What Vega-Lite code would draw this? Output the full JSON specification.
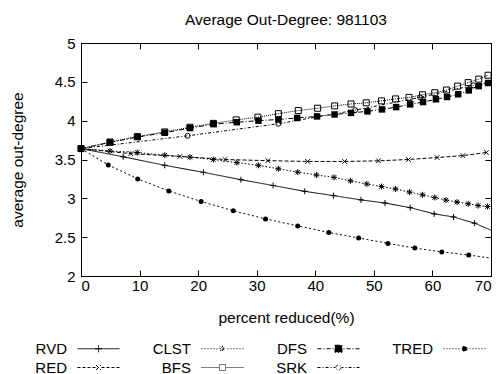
{
  "$schema": "https://vega.github.io/schema/vega-lite/v6.json",
  "width": 410,
  "height": 233,
  "autosize": "none",
  "padding": {"left": 81, "top": 43, "right": 13, "bottom": 98},
  "background": "white",
  "title": {"text": "Average Out-Degree: 981103", "fontSize": 15.5, "fontWeight": "normal", "font": "Liberation Sans", "color": "black", "offset": 8},
  "config": {
    "view": {"stroke": "black", "strokeWidth": 1},
    "axis": {"domain": false, "grid": false, "tickColor": "black", "tickSize": -6, "labelFont": "Liberation Sans", "labelFontSize": 15, "labelColor": "black", "titleFont": "Liberation Sans", "titleFontSize": 15.5, "titleFontWeight": "normal", "titleColor": "black"}
  },
  "data": {"values": [
    {"series": "RVD", "x": 0, "y": 3.64}, {"series": "RVD", "x": 7.2, "y": 3.535}, {"series": "RVD", "x": 14.3, "y": 3.425}, {"series": "RVD", "x": 20.9, "y": 3.335}, {"series": "RVD", "x": 27.3, "y": 3.24}, {"series": "RVD", "x": 32.8, "y": 3.165}, {"series": "RVD", "x": 38.2, "y": 3.09}, {"series": "RVD", "x": 43.1, "y": 3.035}, {"series": "RVD", "x": 47.8, "y": 2.98}, {"series": "RVD", "x": 51.9, "y": 2.94}, {"series": "RVD", "x": 56.2, "y": 2.88}, {"series": "RVD", "x": 60.3, "y": 2.8}, {"series": "RVD", "x": 63.6, "y": 2.76}, {"series": "RVD", "x": 67.2, "y": 2.68}, {"series": "RVD", "x": 70, "y": 2.59},
    {"series": "RED", "x": 0, "y": 3.64}, {"series": "RED", "x": 8.5, "y": 3.575}, {"series": "RED", "x": 16.9, "y": 3.54}, {"series": "RED", "x": 24.6, "y": 3.5}, {"series": "RED", "x": 31.9, "y": 3.485}, {"series": "RED", "x": 38.7, "y": 3.475}, {"series": "RED", "x": 45.0, "y": 3.475}, {"series": "RED", "x": 50.8, "y": 3.483}, {"series": "RED", "x": 55.9, "y": 3.5}, {"series": "RED", "x": 60.8, "y": 3.525}, {"series": "RED", "x": 65.2, "y": 3.55}, {"series": "RED", "x": 69.2, "y": 3.59},
    {"series": "CLST", "x": 0, "y": 3.64}, {"series": "CLST", "x": 4.95, "y": 3.61}, {"series": "CLST", "x": 9.6, "y": 3.59}, {"series": "CLST", "x": 14.3, "y": 3.555}, {"series": "CLST", "x": 18.6, "y": 3.53}, {"series": "CLST", "x": 22.6, "y": 3.5}, {"series": "CLST", "x": 26.6, "y": 3.46}, {"series": "CLST", "x": 30.3, "y": 3.425}, {"series": "CLST", "x": 33.7, "y": 3.38}, {"series": "CLST", "x": 37.0, "y": 3.337}, {"series": "CLST", "x": 40.2, "y": 3.3}, {"series": "CLST", "x": 43.2, "y": 3.27}, {"series": "CLST", "x": 46.0, "y": 3.225}, {"series": "CLST", "x": 48.8, "y": 3.185}, {"series": "CLST", "x": 51.3, "y": 3.152}, {"series": "CLST", "x": 53.7, "y": 3.12}, {"series": "CLST", "x": 56.1, "y": 3.08}, {"series": "CLST", "x": 58.3, "y": 3.045}, {"series": "CLST", "x": 60.4, "y": 3.01}, {"series": "CLST", "x": 62.3, "y": 2.978}, {"series": "CLST", "x": 64.2, "y": 2.952}, {"series": "CLST", "x": 66.1, "y": 2.93}, {"series": "CLST", "x": 67.8, "y": 2.907}, {"series": "CLST", "x": 69.4, "y": 2.895},
    {"series": "BFS", "x": 0, "y": 3.64}, {"series": "BFS", "x": 4.95, "y": 3.725}, {"series": "BFS", "x": 9.6, "y": 3.795}, {"series": "BFS", "x": 14.3, "y": 3.855}, {"series": "BFS", "x": 18.6, "y": 3.915}, {"series": "BFS", "x": 22.6, "y": 3.965}, {"series": "BFS", "x": 26.5, "y": 4.01}, {"series": "BFS", "x": 30.2, "y": 4.045}, {"series": "BFS", "x": 33.7, "y": 4.09}, {"series": "BFS", "x": 37.1, "y": 4.13}, {"series": "BFS", "x": 40.4, "y": 4.16}, {"series": "BFS", "x": 43.3, "y": 4.19}, {"series": "BFS", "x": 46.1, "y": 4.215}, {"series": "BFS", "x": 48.7, "y": 4.23}, {"series": "BFS", "x": 51.3, "y": 4.255}, {"series": "BFS", "x": 53.7, "y": 4.28}, {"series": "BFS", "x": 56.0, "y": 4.3}, {"series": "BFS", "x": 58.3, "y": 4.333}, {"series": "BFS", "x": 60.4, "y": 4.36}, {"series": "BFS", "x": 62.4, "y": 4.395}, {"series": "BFS", "x": 64.3, "y": 4.445}, {"series": "BFS", "x": 66.1, "y": 4.49}, {"series": "BFS", "x": 67.9, "y": 4.535}, {"series": "BFS", "x": 69.5, "y": 4.585},
    {"series": "DFS", "x": 0, "y": 3.64}, {"series": "DFS", "x": 4.95, "y": 3.72}, {"series": "DFS", "x": 9.68, "y": 3.79}, {"series": "DFS", "x": 14.3, "y": 3.845}, {"series": "DFS", "x": 18.6, "y": 3.905}, {"series": "DFS", "x": 22.65, "y": 3.955}, {"series": "DFS", "x": 26.6, "y": 3.98}, {"series": "DFS", "x": 30.3, "y": 4.0}, {"series": "DFS", "x": 33.7, "y": 4.015}, {"series": "DFS", "x": 36.9, "y": 4.035}, {"series": "DFS", "x": 40.3, "y": 4.055}, {"series": "DFS", "x": 43.3, "y": 4.08}, {"series": "DFS", "x": 46.1, "y": 4.1}, {"series": "DFS", "x": 48.9, "y": 4.12}, {"series": "DFS", "x": 51.4, "y": 4.145}, {"series": "DFS", "x": 53.8, "y": 4.175}, {"series": "DFS", "x": 56.2, "y": 4.21}, {"series": "DFS", "x": 58.4, "y": 4.24}, {"series": "DFS", "x": 60.6, "y": 4.275}, {"series": "DFS", "x": 62.5, "y": 4.305}, {"series": "DFS", "x": 64.4, "y": 4.34}, {"series": "DFS", "x": 66.2, "y": 4.39}, {"series": "DFS", "x": 67.9, "y": 4.445}, {"series": "DFS", "x": 69.5, "y": 4.485},
    {"series": "SRK", "x": 0, "y": 3.64}, {"series": "SRK", "x": 18.2, "y": 3.805}, {"series": "SRK", "x": 33.7, "y": 3.96}, {"series": "SRK", "x": 46.8, "y": 4.135}, {"series": "SRK", "x": 57.9, "y": 4.3}, {"series": "SRK", "x": 67.0, "y": 4.455}, {"series": "SRK", "x": 70, "y": 4.5},
    {"series": "TRED", "x": 0, "y": 3.64}, {"series": "TRED", "x": 4.66, "y": 3.43}, {"series": "TRED", "x": 9.68, "y": 3.25}, {"series": "TRED", "x": 15.0, "y": 3.095}, {"series": "TRED", "x": 20.5, "y": 2.96}, {"series": "TRED", "x": 26.0, "y": 2.84}, {"series": "TRED", "x": 31.5, "y": 2.735}, {"series": "TRED", "x": 37.0, "y": 2.645}, {"series": "TRED", "x": 42.3, "y": 2.56}, {"series": "TRED", "x": 47.4, "y": 2.49}, {"series": "TRED", "x": 52.4, "y": 2.42}, {"series": "TRED", "x": 57.0, "y": 2.36}, {"series": "TRED", "x": 61.6, "y": 2.31}, {"series": "TRED", "x": 66.2, "y": 2.27}, {"series": "TRED", "x": 70, "y": 2.23}
  ]},
  "resolve": {"axis": {"x": "independent", "y": "independent"}},
  "layer": [
    {
      "mark": {"type": "line", "strokeWidth": 1, "color": "black", "clip": true},
      "encoding": {
        "x": {"field": "x", "type": "quantitative", "scale": {"domain": [0, 70], "nice": false}, "axis": {"values": [0, 10, 20, 30, 40, 50, 60, 70], "title": "percent reduced(%)", "labelPadding": 8, "titlePadding": 17}},
        "y": {"field": "y", "type": "quantitative", "scale": {"domain": [2, 5], "nice": false, "zero": false}, "axis": {"values": [2, 2.5, 3, 3.5, 4, 4.5, 5], "format": "~g", "title": "average out-degree", "labelPadding": 12, "titlePadding": 29}},
        "strokeDash": {
          "field": "series", "type": "nominal",
          "scale": {"domain": ["RVD", "CLST", "DFS", "TRED", "RED", "BFS", "SRK"], "range": [[1, 0], [1.5, 2], [5, 2, 1, 2], [2, 2.5], [4, 2], [1, 1], [3, 2, 1, 2]]},
          "legend": {
            "orient": "bottom", "direction": "horizontal", "columns": 4, "title": null,
            "symbolSize": 400, "symbolStrokeWidth": 1, "symbolStrokeColor": "black",
            "labelAlign": "right", "labelOffset": -42, "symbolOffset": 7,
            "labelFont": "Liberation Sans", "labelFontSize": 15, "labelColor": "black",
            "columnPadding": 30, "rowPadding": -2, "offset": 12,
            "encode": {"symbols": {"update": {
              "strokeDash": {"value": [1, 0]},
              "stroke": {"value": "black"},
              "strokeWidth": {"value": 1},
              "fill": {"signal": "datum.value === 'DFS' || datum.value === 'TRED' ? 'black' : 'transparent'"},
              "shape": {"signal": "datum.value === 'RVD' ? 'M-2.1,0L2.1,0M0,-0.35L0,0.35M-0.35,0L0.35,0' : datum.value === 'RED' ? 'M-2.1,0L-1.8,0M-1.6,0L-1.3,0M-1.1,0L-0.8,0M-0.6,0L-0.3,0M0.3,0L0.6,0M0.8,0L1.1,0M1.3,0L1.6,0M1.8,0L2.1,0M-0.25,-0.25L0.25,0.25M-0.25,0.25L0.25,-0.25' : datum.value === 'CLST' ? 'M-2.1,0L-2,0M-1.8,0L-1.7,0M-1.5,0L-1.4,0M-1.2,0L-1.1,0M-0.9,0L-0.8,0M-0.6,0L-0.5,0M0.5,0L0.6,0M0.8,0L0.9,0M1.1,0L1.2,0M1.4,0L1.5,0M1.7,0L1.8,0M2,0L2.1,0M-0.3,0L0.3,0M0,-0.3L0,0.3M-0.22,-0.22L0.22,0.22M-0.22,0.22L0.22,-0.22' : datum.value === 'BFS' ? 'M-2.1,0L-2,0M-1.9,0L-1.8,0M-1.7,0L-1.6,0M-1.5,0L-1.4,0M-1.3,0L-1.2,0M-1.1,0L-1,0M-0.9,0L-0.8,0M-0.7,0L-0.6,0M-0.5,0L-0.4,0M0.4,0L0.5,0M0.6,0L0.7,0M0.8,0L0.9,0M1,0L1.1,0M1.2,0L1.3,0M1.4,0L1.5,0M1.6,0L1.7,0M1.8,0L1.9,0M2,0L2.1,0M-0.3,-0.3L0.3,-0.3L0.3,0.3L-0.3,0.3Z' : datum.value === 'DFS' ? 'M-2.1,0L-1.7,0M-1.5,0L-1.4,0M-1.2,0L-0.8,0M-0.6,0L-0.5,0M0.5,0L0.6,0M0.8,0L1.2,0M1.4,0L1.5,0M1.7,0L2.1,0M-0.35,-0.35L0.35,-0.35L0.35,0.35L-0.35,0.35Z' : datum.value === 'SRK' ? 'M-2.1,0L-1.8,0M-1.6,0L-1.5,0M-1.3,0L-1,0M-0.8,0L-0.7,0M-0.5,0L-0.3,0M0.3,0L0.5,0M0.7,0L0.8,0M1,0L1.3,0M1.5,0L1.6,0M1.8,0L2.1,0M0.25,0A0.25,0.25 0 1,1 -0.25,0A0.25,0.25 0 1,1 0.25,0Z' : 'M-2.1,0L-2,0M-1.8,0L-1.7,0M-1.5,0L-1.4,0M-1.2,0L-1.1,0M-0.9,0L-0.8,0M-0.6,0L-0.5,0M0.5,0L0.6,0M0.8,0L0.9,0M1.1,0L1.2,0M1.4,0L1.5,0M1.7,0L1.8,0M2,0L2.1,0M0.25,0A0.25,0.25 0 1,1 -0.25,0A0.25,0.25 0 1,1 0.25,0Z'"}
            }}}
          }
        }
      }
    },
    {
      "transform": [{"filter": "datum.series === 'RVD' && datum.x < 70"}],
      "mark": {"type": "point", "shape": "M-1,0H1M0,-1V1", "size": 36, "filled": false, "stroke": "black", "strokeWidth": 1, "opacity": 1},
      "encoding": {
        "x": {"field": "x", "type": "quantitative", "axis": {"orient": "top", "values": [0, 10, 20, 30, 40, 50, 60, 70], "labels": false, "title": null}},
        "y": {"field": "y", "type": "quantitative", "axis": {"orient": "right", "values": [2, 2.5, 3, 3.5, 4, 4.5, 5], "labels": false, "title": null}}
      }
    },
    {
      "transform": [{"filter": "datum.series === 'RED'"}],
      "mark": {"type": "point", "shape": "M-0.85,-0.85L0.85,0.85M-0.85,0.85L0.85,-0.85", "size": 30, "filled": false, "stroke": "black", "strokeWidth": 1, "opacity": 1},
      "encoding": {"x": {"field": "x", "type": "quantitative", "axis": null}, "y": {"field": "y", "type": "quantitative", "axis": null}}
    },
    {
      "transform": [{"filter": "datum.series === 'CLST'"}],
      "mark": {"type": "point", "shape": "M-1,0H1M0,-1V1M-0.75,-0.75L0.75,0.75M-0.75,0.75L0.75,-0.75", "size": 36, "filled": false, "stroke": "black", "strokeWidth": 1, "opacity": 1},
      "encoding": {"x": {"field": "x", "type": "quantitative", "axis": null}, "y": {"field": "y", "type": "quantitative", "axis": null}}
    },
    {
      "transform": [{"filter": "datum.series === 'BFS'"}],
      "mark": {"type": "point", "shape": "square", "size": 36, "filled": false, "stroke": "black", "strokeWidth": 1, "opacity": 1},
      "encoding": {"x": {"field": "x", "type": "quantitative", "axis": null}, "y": {"field": "y", "type": "quantitative", "axis": null}}
    },
    {
      "transform": [{"filter": "datum.series === 'DFS'"}],
      "mark": {"type": "point", "shape": "square", "size": 42, "filled": true, "color": "black", "opacity": 1},
      "encoding": {"x": {"field": "x", "type": "quantitative", "axis": null}, "y": {"field": "y", "type": "quantitative", "axis": null}}
    },
    {
      "transform": [{"filter": "datum.series === 'SRK' && datum.x < 70"}],
      "mark": {"type": "point", "shape": "circle", "size": 25, "filled": false, "stroke": "black", "strokeWidth": 1, "opacity": 1},
      "encoding": {"x": {"field": "x", "type": "quantitative", "axis": null}, "y": {"field": "y", "type": "quantitative", "axis": null}}
    },
    {
      "transform": [{"filter": "datum.series === 'TRED' && datum.x < 70"}],
      "mark": {"type": "point", "shape": "circle", "size": 25, "filled": true, "color": "black", "opacity": 1},
      "encoding": {"x": {"field": "x", "type": "quantitative", "axis": null}, "y": {"field": "y", "type": "quantitative", "axis": null}}
    }
  ]
}
